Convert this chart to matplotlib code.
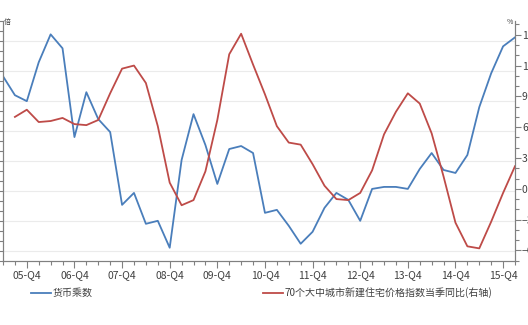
import numpy as np
import matplotlib
matplotlib.use("Agg")
import matplotlib.pyplot as plt
from matplotlib.ticker import MultipleLocator, FixedLocator

plt.rcParams['font.family'] = ['Noto Sans CJK SC', 'DejaVu Sans']

# ==============================
# DATA
# ==============================
quarters = ["05-Q2", "05-Q3", "05-Q4"]
for yy in range(6, 16):
    quarters += [f"{yy:02d}-Q{q}" for q in range(1, 5)]
quarters += ["16-Q1"]

# 货币乘数 (left axis, 倍)
money_mult = [5.35, 5.16, 5.10, 5.49, 5.77, 5.63, 4.74, 5.19, 4.92, 4.79,
              4.06, 4.18, 3.87, 3.90, 3.63, 4.51, 4.97, 4.66, 4.27, 4.62,
              4.65, 4.58, 3.98, 4.01, 3.85, 3.67, 3.79, 4.03, 4.18, 4.11,
              3.90, 4.22, 4.24, 4.24, 4.22, 4.42, 4.58, 4.41, 4.38, 4.56,
              5.04, 5.38, 5.65, 5.74]

# 70个大中城市新建住宅价格指数当季同比 (right axis, %)
house_yoy = [np.nan, 7.0, 7.7, 6.5, 6.6, 6.9, 6.3, 6.2, 6.7, 9.3,
             11.7, 12.0, 10.3, 6.1, 0.6, -1.6, -1.1, 1.7, 6.7, 13.1,
             15.1, 12.1, 9.2, 6.1, 4.5, 4.3, 2.4, 0.3, -1.0, -1.1,
             -0.4, 1.8, 5.3, 7.5, 9.3, 8.3, 5.4, 1.2, -3.3, -5.6,
             -5.8, -3.2, -0.4, 2.2]

label_left = "货币乘数"
label_right = "70个大中城市新建住宅价格指数当季同比(右轴)"

# ==============================
# Plot
# ==============================
W, H = 528, 325
fig = plt.figure(figsize=(W / 100, H / 100), dpi=100)
ax = fig.add_axes([3 / W, 1 - 260.7 / H, 512 / W, 239.3 / H])
ax2 = ax.twinx()

x = np.arange(len(quarters))
blue = "#4a7ebb"
red = "#be4b48"
axis_col = "#808080"

l1, = ax.plot(x, money_mult, color=blue, lw=1.3)
l2, = ax2.plot(x, house_yoy, color=red, lw=1.3)

ax.set_xlim(0, len(quarters) - 1)
ax.set_ylim(3.5, 5.9)
ax2.set_ylim(-7, 16.3)

# x ticks: labels on Q4, minor every quarter
q4 = [i for i, q in enumerate(quarters) if q.endswith("Q4")]
ax.xaxis.set_major_locator(FixedLocator(q4))
ax.set_xticklabels([quarters[i] for i in q4])
ax.xaxis.set_minor_locator(MultipleLocator(1))

# left axis: labels are cut off in the source, gridlines every 0.3
ax.yaxis.set_major_locator(MultipleLocator(0.3))
ax.yaxis.set_minor_locator(MultipleLocator(0.1))
ax.tick_params(axis='y', which='both', labelleft=False, length=3,
               color=axis_col, width=0.8)
ax.grid(True, axis='y', color="#ebebeb", lw=0.8)
ax.set_axisbelow(True)

ax2.yaxis.set_major_locator(MultipleLocator(3))
ax2.yaxis.set_minor_locator(MultipleLocator(1))
ax2.tick_params(axis='y', which='major', length=4, color=axis_col, width=0.8,
                labelsize=7.5, labelcolor="#404040", pad=1)
ax2.tick_params(axis='y', which='minor', length=3, color=axis_col, width=0.8)

ax.tick_params(axis='x', which='major', length=5, color=axis_col, width=0.8,
               labelsize=7.5, labelcolor="#404040", pad=2)
ax.tick_params(axis='x', which='minor', length=3, color=axis_col, width=0.8)

for a in (ax, ax2):
    a.spines['top'].set_visible(False)
    for s in ('left', 'right', 'bottom'):
        a.spines[s].set_color(axis_col)
        a.spines[s].set_linewidth(0.8)

# unit labels
fig.text(7 / W, 1 - 22 / H, "倍", fontsize=5, color="#404040",
         ha='center', va='center')
fig.text(510 / W, 1 - 22 / H, "%", fontsize=5, color="#404040",
         ha='center', va='center')

# legends
fig.legend([l1], [label_left], loc='center left',
           bbox_to_anchor=(26 / W, 1 - 293 / H), frameon=False,
           borderpad=0, handlelength=2.0, handletextpad=0.15,
           fontsize=7.2, labelcolor="#404040")
fig.legend([l2], [label_right], loc='center left',
           bbox_to_anchor=(258 / W, 1 - 293 / H), frameon=False,
           borderpad=0, handlelength=2.0, handletextpad=0.15,
           fontsize=7.2, labelcolor="#404040")

fig.savefig("out.png", dpi=100)
